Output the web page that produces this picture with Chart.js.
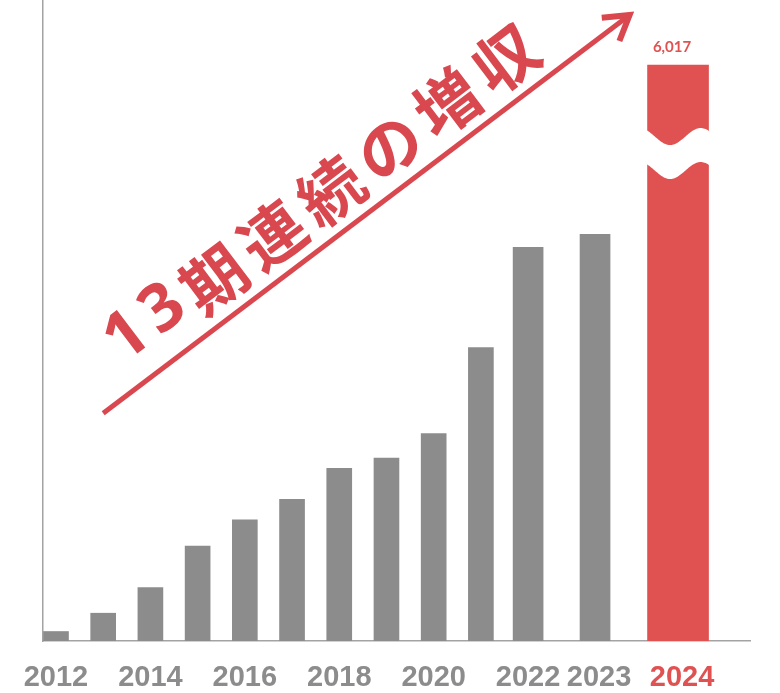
<!DOCTYPE html>
<html lang="ja">
<head>
<meta charset="utf-8">
<title>13期連続の増収</title>
<script src="https://cdn.jsdelivr.net/npm/chart.js@4.4.1/dist/chart.umd.min.js"></script>
<style>
  html, body { margin: 0; padding: 0; background: #fff; }
  #wrap { width: 780px; height: 693px; }
</style>
</head>
<body>
<div id="wrap"><canvas id="salesChart"></canvas></div>
<script>
// 売上高（2024年のみ数値あり、他は棒の高さから推定）
const years     = [2012, 2013, 2014, 2015, 2016, 2017, 2018, 2019, 2020, 2021, 2022, 2023, 2024];
const revenue   = [70, 205, 395, 700, 895, 1045, 1275, 1350, 1530, 2165, 2905, 3000, 6017];
const tickYears = [2012, 2014, 2016, 2018, 2020, 2022, 2023, 2024];
const headline  = '13期連続の増収';

const latestYear = 2024;
const wideFrom   = 2022;   // 太い棒
const lateFrom   = 2023;   // 右側の広い枠（第2 x軸）
const breakCap   = 4250;   // 2024年の棒は省略線つきでここまで描く

const GRAY = '#8c8c8c';
const RED = '#e05252';
const INK = '#d9474f';
const AXIS = '#a3a3a3';

function points(test) {
  return years
    .map((yr, i) => ({ x: yr, y: revenue[i] }))
    .filter(p => test(p.x));
}

// 省略線・数値ラベル・矢印と見出し
const annotate = {
  id: 'annotate',
  afterDatasetsDraw(chart) {
    const { ctx } = chart;
    const xs = chart.scales.x, ys = chart.scales.y;

    // 2024年の棒の波形カット
    const bar = chart.getDatasetMeta(3).data[0];
    const { x, y, width } = bar.getProps(['x', 'y', 'width'], true);
    const left = x - width / 2;
    const edge = y + 71.5, gap = 34, amp = 8.5;
    const wave = t => amp * Math.sin(2 * Math.PI * (t - 0.12));
    ctx.save();
    ctx.fillStyle = '#fff';
    ctx.beginPath();
    for (let px = left - 4; px <= left + width + 4; px += 1) {
      const yy = edge + wave((px - left) / width);
      px === left - 4 ? ctx.moveTo(px, yy) : ctx.lineTo(px, yy);
    }
    for (let px = left + width + 4; px >= left - 4; px -= 1) {
      ctx.lineTo(px, edge + gap + wave((px - left) / width));
    }
    ctx.closePath();
    ctx.fill();

    // 数値ラベル
    const last = revenue[years.indexOf(latestYear)];
    ctx.fillStyle = RED;
    ctx.font = 'bold 15px Lato, "Noto Sans", sans-serif';
    ctx.textAlign = 'center';
    ctx.textBaseline = 'middle';
    ctx.fillText(last.toLocaleString('en-US'), x - 6, y - 18);
    ctx.restore();

    // 矢印
    const tail = { x: xs.getPixelForValue(2013), y: ys.getPixelForValue(1680) };
    const tip = { x: xs.getPixelForValue(2024.15), y: ys.getPixelForValue(4620) };
    const ang = Math.atan2(tip.y - tail.y, tip.x - tail.x);
    ctx.save();
    ctx.strokeStyle = INK;
    ctx.lineWidth = 5;
    ctx.beginPath();
    ctx.moveTo(tail.x, tail.y);
    ctx.lineTo(tip.x, tip.y);
    ctx.stroke();
    ctx.lineWidth = 6;
    ctx.beginPath();
    ctx.moveTo(tip.x - 28 * Math.cos(ang - 0.55), tip.y - 28 * Math.sin(ang - 0.55));
    ctx.lineTo(tip.x, tip.y);
    ctx.lineTo(tip.x - 28 * Math.cos(ang + 0.55), tip.y - 28 * Math.sin(ang + 0.55));
    ctx.stroke();

    // 見出し（矢印に沿って）: 数字は太い欧文書体で少し上げる
    ctx.translate(tail.x, tail.y);
    ctx.rotate(ang);
    ctx.fillStyle = INK;
    ctx.textAlign = 'left';
    ctx.textBaseline = 'middle';
    let pos = 46;
    for (const ch of headline) {
      const digit = /[0-9]/.test(ch);
      ctx.font = digit ? 'bold 66px "Noto Sans", sans-serif' : 'bold 64px "Noto Sans CJK JP", sans-serif';
      ctx.fillText(ch, pos, digit ? -46 : -40);
      pos += ctx.measureText(ch).width + (digit ? 8 : 9);
    }
    ctx.restore();
  }
};

const tickFont = { family: '"Liberation Sans", Arial, sans-serif', size: 29, weight: 'bold' };
const noPad = s => { s.paddingLeft = 0; s.paddingRight = 0; s.paddingTop = 0; s.paddingBottom = 0; };

new Chart(document.getElementById('salesChart'), {
  type: 'bar',
  data: {
    datasets: [
      { data: points(y => y < wideFrom), backgroundColor: GRAY, barThickness: 25, xAxisID: 'x' },
      { data: points(y => y >= wideFrom && y < lateFrom), backgroundColor: GRAY, barThickness: 30, xAxisID: 'x' },
      { data: points(y => y >= lateFrom && y < latestYear), backgroundColor: GRAY, barThickness: 30, xAxisID: 'x2' },
      { data: points(y => y === latestYear).map(p => ({ x: p.x, y: Math.min(p.y, breakCap) })),
        backgroundColor: RED, barThickness: 61, xAxisID: 'x2' }
    ]
  },
  options: {
    responsive: true,
    maintainAspectRatio: false,
    animation: false,
    grouped: false,
    layout: { padding: { left: 43, right: 30, top: 0, bottom: 0 } },
    plugins: { legend: { display: false }, tooltip: { enabled: false } },
    scales: {
      x: {
        type: 'linear', min: 2011.725, max: 2026.7, offset: false,
        grid: { display: false, drawTicks: false },
        border: { color: AXIS, width: 1.5 },
        afterBuildTicks: s => { s.ticks = tickYears.filter(v => v < lateFrom).map(v => ({ value: v })); },
        afterFit: s => { noPad(s); s.height = 52; },
        ticks: { callback: v => String(v), color: GRAY, font: tickFont, padding: 20, autoSkip: false, maxRotation: 0 }
      },
      // 右側の2年分は広い間隔で並べる（y=0の位置に重ねる）
      x2: {
        type: 'linear', position: { y: 0 }, min: 2016.349, max: 2024.867, offset: false,
        grid: { display: false, drawTicks: false },
        border: { display: false },
        afterBuildTicks: s => { s.ticks = tickYears.filter(v => v >= lateFrom).map(v => ({ value: v })); },
        afterFit: noPad,
        ticks: {
          callback: v => String(v),
          color: c => (c.tick && c.tick.value === latestYear ? RED : GRAY),
          font: tickFont, padding: 20, labelOffset: 4, autoSkip: false, maxRotation: 0
        }
      },
      y: {
        min: 0, max: 4730,
        afterFit: noPad,
        ticks: { display: false },
        grid: { display: false, drawTicks: false },
        border: { color: AXIS, width: 1.5 }
      }
    }
  },
  plugins: [annotate]
});
</script>
</body>
</html>
